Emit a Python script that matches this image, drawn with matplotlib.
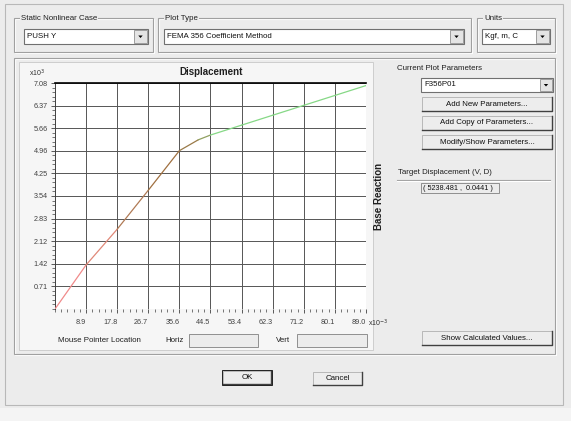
import matplotlib
matplotlib.use("Agg")
import matplotlib.pyplot as plt
from matplotlib.patches import Rectangle, Polygon
from matplotlib.ticker import MultipleLocator, FixedLocator

plt.rcParams['font.family'] = ['Liberation Sans', 'DejaVu Sans']

# pushover curve, displacement (x10^-3 m) vs base reaction (x10^3 kgf)
curve_x = [0, 8.9, 17.8, 26.7, 35.6, 41.0, 44.5, 53.4, 62.3, 71.2, 80.1, 89.0]
curve_y = [0, 1.38, 2.50, 3.72, 4.96, 5.30, 5.45, 5.76, 6.07, 6.38, 6.69, 7.00]
seg_colors = ['#f08a8a', '#e08878', '#b07a55', '#a07040', '#9a7a48', '#90a060',
              '#86d886', '#86d886', '#86d886', '#86d886', '#86d886']

x_ticks = [8.9, 17.8, 26.7, 35.6, 44.5, 53.4, 62.3, 71.2, 80.1, 89.0]
x_labels = ['8.9', '17.8', '26.7', '35.6', '44.5', '53.4', '62.3', '71.2', '80.1', '89.0']
y_ticks = [0.708, 1.416, 2.124, 2.832, 3.54, 4.248, 4.956, 5.664, 6.372, 7.08]
y_labels = ['0.71', '1.42', '2.12', '2.83', '3.54', '4.25', '4.96', '5.66', '6.37', '7.08']

case_name = 'PUSH Y'
plot_type = 'FEMA 356 Coefficient Method'
units = 'Kgf, m, C'
param_name = 'F356P01'
target_disp = '( 5238.481 ,  0.0441 )'

BG = '#ececec'
FS = 5.7

fig = plt.figure(figsize=(5.71, 4.21), dpi=100)
fig.patch.set_facecolor(BG)

# full-figure axes in pixel coordinates for the dialog
ui = fig.add_axes([0, 0, 1, 1])
ui.set_xlim(0, 571)
ui.set_ylim(421, 0)
ui.axis('off')


def rect(x0, y0, x1, y1, fc='none', ec='#a0a0a0', lw=0.8, z=1):
    ui.add_patch(Rectangle((x0, y0), x1 - x0, y1 - y0, facecolor=fc,
                           edgecolor=ec, lw=lw, zorder=z))


def groupbox(x0, y0, x1, y1, label=None):
    rect(x0 + 1, y0 + 1, x1 + 1, y1 + 1, ec='white')
    rect(x0, y0, x1, y1, ec='#a0a0a0')
    if label:
        ui.text(x0 + 7, y0, label, fontsize=FS, va='center', ha='left',
                color='#202020', zorder=3,
                bbox=dict(facecolor=BG, edgecolor='none', pad=0.6))


def combo(x0, y0, x1, y1, text):
    rect(x0, y0, x1, y1, fc='white', ec='#707070', z=2)
    h = y1 - y0
    rect(x1 - h + 1, y0 + 1, x1 - 1, y1 - 1, fc='#e4e4e4', ec='#909090', lw=0.6, z=3)
    cx, cy = x1 - h / 2, (y0 + y1) / 2
    ui.add_patch(Polygon([[cx - 2.2, cy - 1], [cx + 2.2, cy - 1], [cx, cy + 1.5]],
                         closed=True, fc='black', ec='none', zorder=4))
    ui.text(x0 + 3, (y0 + y1) / 2, text, fontsize=FS, va='center', ha='left',
            color='#101010', zorder=4)


def button(x0, y0, x1, y1, text):
    rect(x0, y0, x1, y1, fc='#ededed', ec='#b0b0b0', lw=0.6, z=2)
    ui.plot([x0, x1, x1], [y1, y1, y0], color='#404040', lw=1.0, zorder=3)
    ui.text((x0 + x1) / 2, (y0 + y1) / 2, text, fontsize=FS, va='center',
            ha='center', color='#101010', zorder=4)


# outer frame
rect(5, 4, 563, 405, ec='#b8b8b8')
ui.add_patch(Rectangle((0, 408), 571, 13, facecolor='#f4f4f4', edgecolor='none'))

# top selectors
groupbox(14, 18, 153, 52, 'Static Nonlinear Case')
combo(24, 29, 148, 44, case_name)
groupbox(158, 18, 471, 52, 'Plot Type')
combo(164, 29, 464, 44, plot_type)
groupbox(477, 18, 555, 52, 'Units')
combo(482, 29, 550, 44, units)

# main group with the plot panel
groupbox(14, 58, 555, 354)
rect(19, 62, 373, 350, fc='#f6f6f6', ec='#c8c8c8', lw=0.6)
ui.text(211, 72, 'Displacement', fontsize=7, fontweight='bold', ha='center',
        va='center', color='#202020')
ui.text(379, 196, 'Base Reaction', fontsize=7, fontweight='bold', ha='center',
        va='center', rotation=90, color='#202020')
ui.text(29, 73, 'x10$^{3}$', fontsize=5, ha='left', va='center', color='#303030')
ui.text(368, 323, 'x10$^{-3}$', fontsize=5, ha='left', va='center', color='#303030')

# mouse pointer row
ui.text(58, 340, 'Mouse Pointer Location', fontsize=FS, ha='left', va='center', color='#202020')
ui.text(165, 340, 'Horiz', fontsize=FS, ha='left', va='center', color='#202020')
rect(189, 334, 258, 347, fc=BG, ec='#808080', lw=0.6)
ui.text(276, 340, 'Vert', fontsize=FS, ha='left', va='center', color='#202020')
rect(297, 334, 367, 347, fc=BG, ec='#808080', lw=0.6)

# right hand controls
ui.text(397, 69, 'Current Plot Parameters', fontsize=FS, ha='left', va='center', color='#202020')
combo(421, 78, 553, 92, param_name)
button(422, 97, 552, 111, 'Add New Parameters...')
button(422, 116, 552, 130, 'Add Copy of Parameters...')
button(422, 135, 552, 149, 'Modify/Show Parameters...')
ui.text(398, 173, 'Target Displacement (V, D)', fontsize=FS, ha='left', va='center', color='#202020')
ui.plot([397, 550], [180, 180], color='#a0a0a0', lw=0.8)
ui.plot([397, 550], [181, 181], color='white', lw=0.8)
rect(421, 183, 499, 193, fc=BG, ec='#808080', lw=0.6)
ui.text(423, 188, target_disp, fontsize=5.2, ha='left', va='center', color='#101010')
button(422, 331, 552, 345, 'Show Calculated Values...')

# OK / Cancel
button(223, 371, 271, 384, 'OK')
rect(222, 370, 272, 385, ec='#202020', lw=0.7, z=3)
button(313, 372, 362, 385, 'Cancel')

# the plot itself
W, H = 571, 421
L, R, T, B = 55, 366, 83, 309
ax = fig.add_axes([L / W, (H - B) / H, (R - L) / W, (B - T) / H])
ax.set_facecolor('white')
for i in range(len(curve_x) - 1):
    ax.plot(curve_x[i:i + 2], curve_y[i:i + 2], color=seg_colors[i], lw=0.9,
            solid_capstyle='round', zorder=3)
ax.set_xlim(0, 89.0)
ax.set_ylim(0, 7.08)
ax.xaxis.set_major_locator(FixedLocator(x_ticks))
ax.yaxis.set_major_locator(FixedLocator(y_ticks))
ax.set_xticklabels(x_labels)
ax.set_yticklabels(y_labels)
ax.xaxis.set_minor_locator(MultipleLocator(8.9 / 5))
ax.yaxis.set_minor_locator(MultipleLocator(0.708 / 5))
ax.grid(True, which='major', color='#555555', lw=0.7)
ax.tick_params(which='both', labelsize=5.2, colors='#404040', direction='out')
ax.tick_params(which='major', length=3, width=0.6)
ax.tick_params(which='minor', length=2, width=0.5)
ax.tick_params(axis='x', pad=4)
ax.tick_params(axis='y', pad=2)
for lab in ax.get_xticklabels():
    lab.set_ha('right')
for s in ['right', 'bottom']:
    ax.spines[s].set_visible(False)
ax.spines['top'].set_color('black')
ax.spines['top'].set_linewidth(1.2)
ax.spines['left'].set_color('#404040')
ax.spines['left'].set_linewidth(0.7)

fig.savefig('out.png', dpi=100, facecolor=BG)
